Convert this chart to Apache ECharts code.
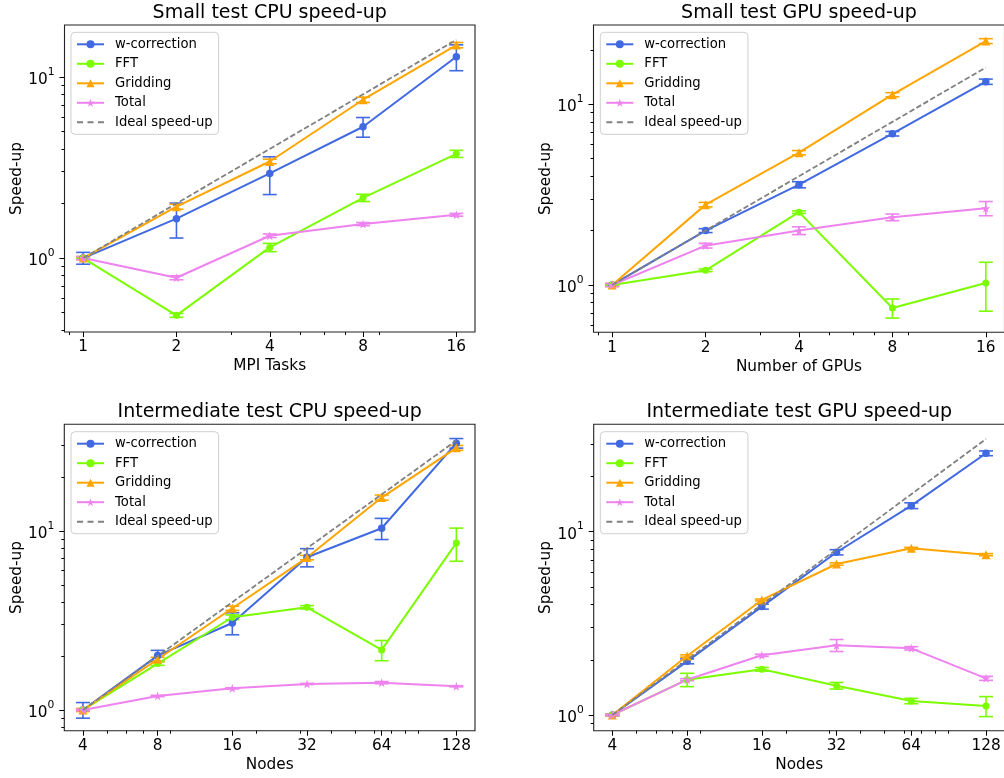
<!DOCTYPE html>
<html>
<head>
<meta charset="utf-8">
<title>Speed-up</title>
<script src="https://cdn.jsdelivr.net/npm/echarts@6/dist/echarts.min.js"></script>
<style>
  html, body { margin: 0; padding: 0; background: #fff; }
  #chart { width: 1004px; height: 778px; }
</style>
</head>
<body>
<div id="chart"></div>
<script>
// ---- data -------------------------------------------------------------
const seriesNames = ['w-correction', 'FFT', 'Gridding', 'Total', 'Ideal speed-up'];

// Small test, CPU (x = MPI tasks)
const smallCpuTasks = [1, 2, 4, 8, 16];
const smallCpuWcorr = [1.0, 1.65, 2.93, 5.30, 12.9];
const smallCpuWcorrErr = [0.075, 0.36, 0.69, 0.66, 2.1];
const smallCpuFft = [1.0, 0.483, 1.145, 2.15, 3.76];
const smallCpuFftErr = [0.01, 0.012, 0.06, 0.1, 0.17];
const smallCpuGrid = [1.0, 1.92, 3.41, 7.47, 14.95];
const smallCpuGridErr = [0.02, 0.06, 0.1, 0.25, 0.5];
const smallCpuTotal = [1.0, 0.779, 1.328, 1.54, 1.733];
const smallCpuTotalErr = [0.02, 0.02, 0.03, 0.03, 0.03];
const smallCpuIdeal = [1, 2, 4, 8, 16];

// Small test, GPU (x = number of GPUs)
const smallGpuCount = [1, 2, 4, 8, 16];
const smallGpuWcorr = [1.0, 2.0, 3.59, 6.88, 13.35];
const smallGpuWcorrErr = [0.01, 0.05, 0.14, 0.2, 0.45];
const smallGpuFft = [1.0, 1.206, 2.53, 0.746, 1.026];
const smallGpuFftErr = [0.01, 0.02, 0.04, 0.09, 0.31];
const smallGpuGrid = [1.0, 2.785, 5.40, 11.31, 22.4];
const smallGpuGridErr = [0.02, 0.08, 0.15, 0.3, 0.7];
const smallGpuTotal = [1.0, 1.651, 2.0, 2.37, 2.657];
const smallGpuTotalErr = [0.02, 0.05, 0.1, 0.1, 0.24];
const smallGpuIdeal = [1, 2, 4, 8, 16];

// Intermediate test, CPU (x = nodes)
const interCpuNodes = [4, 8, 16, 32, 64, 128];
const interCpuWcorr = [1.0, 2.012, 3.06, 7.13, 10.35, 30.9];
const interCpuWcorrErr = [0.1, 0.14, 0.43, 0.83, 1.4, 1.9];
const interCpuFft = [1.0, 1.815, 3.294, 3.746, 2.164, 8.57];
const interCpuFftErr = [0.01, 0.04, 0.1, 0.08, 0.28, 1.8];
const interCpuGrid = [1.0, 1.919, 3.70, 7.10, 15.36, 29.1];
const interCpuGridErr = [0.02, 0.05, 0.1, 0.2, 0.5, 0.9];
const interCpuTotal = [1.0, 1.197, 1.321, 1.397, 1.421, 1.356];
const interCpuTotalErr = [0.01, 0.01, 0.01, 0.01, 0.02, 0.01];
const interCpuIdeal = [1, 2, 4, 8, 16, 32];

// Intermediate test, GPU (x = nodes)
const interGpuNodes = [4, 8, 16, 32, 64, 128];
const interGpuWcorr = [1.0, 1.962, 3.90, 7.72, 13.86, 26.75];
const interGpuWcorrErr = [0.01, 0.06, 0.12, 0.25, 0.5, 0.8];
const interGpuFft = [1.0, 1.558, 1.775, 1.445, 1.192, 1.12];
const interGpuFftErr = [0.01, 0.13, 0.04, 0.06, 0.04, 0.14];
const interGpuGrid = [1.0, 2.098, 4.24, 6.66, 8.11, 7.49];
const interGpuGridErr = [0.01, 0.03, 0.05, 0.1, 0.1, 0.1];
const interGpuTotal = [1.0, 1.558, 2.116, 2.399, 2.31, 1.585];
const interGpuTotalErr = [0.01, 0.02, 0.03, 0.18, 0.05, 0.04];
const interGpuIdeal = [1, 2, 4, 8, 16, 32];

// tick values
const yMajorTicks = [1, 10];
const yMinorTicks = [0.3, 0.4, 0.5, 0.6, 0.7, 0.8, 0.9, 2, 3, 4, 5, 6, 7, 8, 9, 20, 30, 40];
const xMinorTicks = [0.9, 3, 5, 6, 7, 9, 20, 30, 40, 50, 60, 70, 80, 90];

// ---- styling ----------------------------------------------------------
const FONT = 'DejaVu Sans';
const COLORS = {
  'w-correction': '#4169E1',
  'FFT': '#7CFC00',
  'Gridding': '#FFA500',
  'Total': '#EE82EE',
  'Ideal speed-up': '#808080'
};
const STAR = 'path://M50,0 L61.2,34.5 L97.6,34.5 L68.2,55.9 L79.4,90.5 L50,69.1 L20.6,90.5 L31.8,55.9 L2.4,34.5 L38.8,34.5 Z';
const SYMBOLS = {
  'w-correction': ['circle', 7.5],
  'FFT': ['circle', 7],
  'Gridding': ['triangle', 9],
  'Total': [STAR, 9]
};
const DASH_ICON = 'path://M0,0h6v2h-6z M10.5,0h6v2h-6z M21,0h6v2h-6z';

const panels = [
  {
    title: 'Small test CPU speed-up', xName: 'MPI Tasks', x: smallCpuTasks, ideal: smallCpuIdeal,
    vals: [smallCpuWcorr, smallCpuFft, smallCpuGrid, smallCpuTotal],
    errs: [smallCpuWcorrErr, smallCpuFftErr, smallCpuGridErr, smallCpuTotalErr],
    rect: { left: 64.5, top: 25, width: 410.5, height: 307 },
    xRange: [Math.pow(2, -0.2), Math.pow(2, 4.2)], yRange: [0.391, 19.3],
    titleY: 12.7, legendPos: { left: 71, top: 32.3 }
  },
  {
    title: 'Small test GPU speed-up', xName: 'Number of GPUs', x: smallGpuCount, ideal: smallGpuIdeal,
    vals: [smallGpuWcorr, smallGpuFft, smallGpuGrid, smallGpuTotal],
    errs: [smallGpuWcorrErr, smallGpuFftErr, smallGpuGridErr, smallGpuTotalErr],
    rect: { left: 593.5, top: 25, width: 411, height: 307.3 },
    xRange: [Math.pow(2, -0.2), Math.pow(2, 4.2)], yRange: [0.547, 27.5],
    titleY: 12.7, legendPos: { left: 600.3, top: 32.3 }
  },
  {
    title: 'Intermediate test CPU speed-up', xName: 'Nodes', x: interCpuNodes, ideal: interCpuIdeal,
    vals: [interCpuWcorr, interCpuFft, interCpuGrid, interCpuTotal],
    errs: [interCpuWcorrErr, interCpuFftErr, interCpuGridErr, interCpuTotalErr],
    rect: { left: 64.3, top: 424.3, width: 410.7, height: 306.4 },
    xRange: [4 * Math.pow(2, -0.25), 128 * Math.pow(2, 0.25)], yRange: [0.766, 39.4],
    titleY: 411.7, legendPos: { left: 71, top: 431.7 }
  },
  {
    title: 'Intermediate test GPU speed-up', xName: 'Nodes', x: interGpuNodes, ideal: interGpuIdeal,
    vals: [interGpuWcorr, interGpuFft, interGpuGrid, interGpuTotal],
    errs: [interGpuWcorrErr, interGpuFftErr, interGpuGridErr, interGpuTotalErr],
    rect: { left: 593.7, top: 424.3, width: 411, height: 306.4 },
    xRange: [4 * Math.pow(2, -0.25), 128 * Math.pow(2, 0.25)], yRange: [0.821, 38.5],
    titleY: 411.7, legendPos: { left: 600.3, top: 431.7 }
  }
];

const inRange = (list, r, skip) => list.filter(v => v >= r[0] && v <= r[1] && !(skip || []).includes(v));

// vertical error bar with caps, placed through the axis scales
function errorBarRenderer(color) {
  return function (params, api) {
    const xv = api.value(0);
    const hi = api.coord([xv, api.value(2)]);
    const lo = api.coord([xv, api.value(1)]);
    const style = { stroke: color, lineWidth: 1.6, fill: null };
    const cap = 7;
    return {
      type: 'group',
      children: [
        { type: 'line', shape: { x1: hi[0], y1: hi[1], x2: lo[0], y2: lo[1] }, style },
        { type: 'line', shape: { x1: hi[0] - cap, y1: hi[1], x2: hi[0] + cap, y2: hi[1] }, style },
        { type: 'line', shape: { x1: lo[0] - cap, y1: lo[1], x2: lo[0] + cap, y2: lo[1] }, style }
      ]
    };
  };
}

const labelStyle = { color: '#000', fontFamily: FONT, fontSize: 15.3 };
const tickLine = { color: '#000', width: 1 };

const grid = [], xAxis = [], yAxis = [], series = [], legend = [], graphic = [];

panels.forEach((p, i) => {
  grid.push(Object.assign({
    show: true, borderColor: '#222', borderWidth: 1.1, backgroundColor: 'transparent',
    containLabel: false, outerBoundsMode: 'none'
  }, p.rect));

  // major x axis
  xAxis.push({
    gridIndex: i, type: 'log', logBase: 2, position: 'bottom', min: p.xRange[0], max: p.xRange[1],
    name: p.xName, nameLocation: 'middle', nameGap: 27, nameTextStyle: labelStyle,
    axisLine: { show: false }, splitLine: { show: false },
    axisTick: { show: true, length: 5, lineStyle: tickLine, customValues: p.x },
    axisLabel: { margin: 8, customValues: p.x, formatter: v => String(Math.round(v)), ...labelStyle }
  });
  // minor x ticks
  xAxis.push({
    gridIndex: i, type: 'log', logBase: 2, position: 'bottom', offset: 0, min: p.xRange[0], max: p.xRange[1],
    axisLine: { show: false }, splitLine: { show: false }, axisLabel: { show: false },
    axisTick: { show: true, length: 3, lineStyle: tickLine, customValues: inRange(xMinorTicks, p.xRange, p.x) }
  });
  // major y axis
  yAxis.push({
    gridIndex: i, type: 'log', logBase: 10, position: 'left', min: p.yRange[0], max: p.yRange[1],
    name: 'Speed-up', nameLocation: 'middle', nameGap: 40, nameTextStyle: labelStyle,
    axisLine: { show: false }, splitLine: { show: false },
    axisTick: { show: true, length: 5, lineStyle: tickLine, customValues: yMajorTicks },
    axisLabel: {
      margin: 10, customValues: yMajorTicks,
      formatter: v => '{b|10}{s|' + Math.round(Math.log10(v)) + '}',
      rich: {
        b: { fontFamily: FONT, fontSize: 15.3, color: '#000', lineHeight: 21, verticalAlign: 'bottom' },
        s: { fontFamily: FONT, fontSize: 10.7, color: '#000', lineHeight: 11, verticalAlign: 'top' }
      }
    }
  });
  // minor y ticks
  yAxis.push({
    gridIndex: i, type: 'log', logBase: 10, position: 'left', offset: 0, min: p.yRange[0], max: p.yRange[1],
    axisLine: { show: false }, splitLine: { show: false }, axisLabel: { show: false },
    axisTick: { show: true, length: 3, lineStyle: tickLine, customValues: inRange(yMinorTicks, p.yRange, yMajorTicks) }
  });

  const xi = 2 * i, yi = 2 * i;
  seriesNames.slice(0, 4).forEach((name, k) => {
    const color = COLORS[name];
    const vals = p.vals[k], errs = p.errs[k];
    series.push({
      type: 'custom', name: name + ' error', xAxisIndex: xi, yAxisIndex: yi,
      renderItem: errorBarRenderer(color), silent: true, clip: false,
      encode: { x: 0, y: [1, 2] }, z: 2,
      data: p.x.map((xv, j) => [xv, vals[j] - errs[j], vals[j] + errs[j]])
    });
    series.push({
      type: 'line', name, xAxisIndex: xi, yAxisIndex: yi,
      data: p.x.map((xv, j) => [xv, vals[j]]),
      symbol: SYMBOLS[name][0], symbolSize: SYMBOLS[name][1], showSymbol: true,
      lineStyle: { color, width: 2 }, itemStyle: { color }, z: 3,
      animation: false, emphasis: { disabled: true }
    });
  });
  series.push({
    type: 'line', name: 'Ideal speed-up', xAxisIndex: xi, yAxisIndex: yi,
    data: p.x.map((xv, j) => [xv, p.ideal[j]]),
    symbol: 'none', lineStyle: { color: COLORS['Ideal speed-up'], width: 1.8, type: [5.5, 2.5] },
    itemStyle: { color: COLORS['Ideal speed-up'] }, z: 4, animation: false
  });

  legend.push({
    orient: 'vertical', left: p.legendPos.left, top: p.legendPos.top,
    data: seriesNames.slice(0, 4).concat([{ name: 'Ideal speed-up', icon: DASH_ICON }]),
    itemWidth: 27, itemHeight: 10, itemGap: 5.5,
    padding: [5, 6, 5, 5],
    backgroundColor: 'rgba(255,255,255,0.8)', borderColor: '#cfcfcf', borderWidth: 1, borderRadius: 4,
    textStyle: { fontFamily: FONT, fontSize: 13.2, color: '#000', lineHeight: 14, padding: [0, 0, 0, 6] },
    selectedMode: false, z: 10
  });

  graphic.push({
    type: 'text', x: p.rect.left + p.rect.width / 2, y: p.titleY, z: 10,
    style: {
      text: p.title, fill: '#000', font: '19px "DejaVu Sans"',
      textAlign: 'center', textVerticalAlign: 'middle'
    }
  });
});

const chart = echarts.init(document.getElementById('chart'), null, { renderer: 'canvas' });
chart.setOption({
  animation: false,
  backgroundColor: '#fff',
  textStyle: { fontFamily: FONT },
  grid, xAxis, yAxis, series, legend, graphic,
  tooltip: { show: false }
});
</script>
</body>
</html>
